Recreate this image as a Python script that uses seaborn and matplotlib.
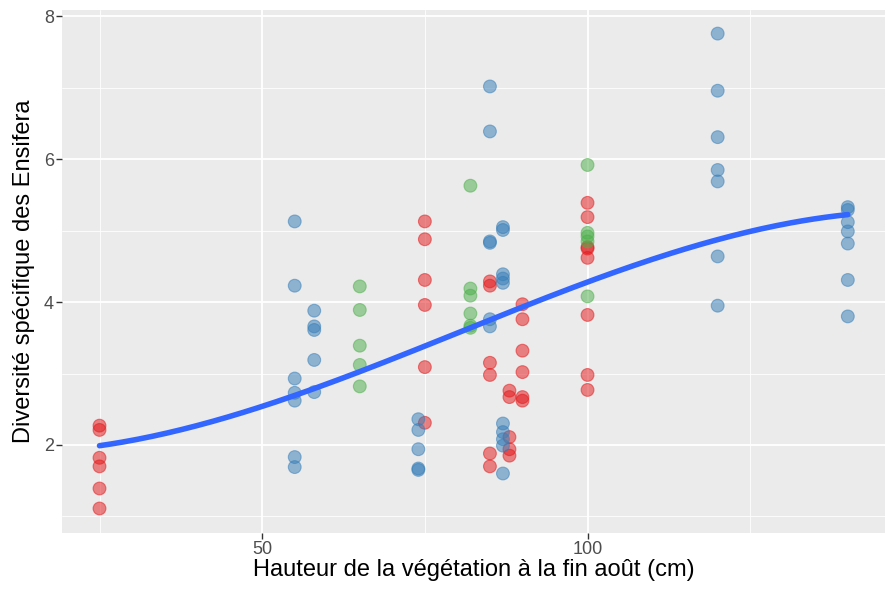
import numpy as np
import pandas as pd
import matplotlib.pyplot as plt
import seaborn as sns
from matplotlib.ticker import MultipleLocator

# Data (height in cm, species diversity)
red_x = [25, 25, 25, 25, 25, 25,
         75, 75, 75, 75, 75, 75,
         85, 85, 85, 85, 85, 85,
         88, 88, 88, 88, 88,
         90, 90, 90, 90, 90, 90,
         100, 100, 100, 100, 100, 100, 100, 100]
red_y = [2.27, 2.21, 1.82, 1.70, 1.39, 1.11,
         5.13, 4.88, 4.31, 3.96, 3.09, 2.31,
         4.29, 4.23, 3.15, 2.98, 1.88, 1.70,
         2.76, 2.67, 2.11, 1.94, 1.85,
         3.97, 3.76, 3.32, 3.02, 2.67, 2.62,
         5.39, 5.19, 4.77, 4.75, 4.62, 3.82, 2.98, 2.77]

blue_x = [55, 55, 55, 55, 55, 55, 55,
          58, 58, 58, 58, 58,
          74, 74, 74, 74, 74,
          85, 85, 85, 85, 85, 85,
          87, 87, 87, 87, 87, 87, 87, 87, 87, 87,
          120, 120, 120, 120, 120, 120, 120,
          140, 140, 140, 140, 140, 140, 140]
blue_y = [5.13, 4.23, 2.93, 2.73, 2.62, 1.83, 1.69,
          3.88, 3.66, 3.61, 3.19, 2.74,
          2.36, 2.21, 1.94, 1.67, 1.65,
          7.02, 6.39, 4.85, 4.83, 3.76, 3.66,
          5.05, 5.01, 4.39, 4.33, 4.27, 2.30, 2.18, 2.08, 1.99, 1.60,
          7.76, 6.96, 6.31, 5.85, 5.69, 4.64, 3.95,
          5.33, 5.29, 5.12, 4.99, 4.82, 4.31, 3.80]

green_x = [65, 65, 65, 65, 65,
           82, 82, 82, 82, 82, 82,
           100, 100, 100, 100, 100]
green_y = [4.22, 3.89, 3.39, 3.12, 2.82,
           5.63, 4.19, 4.09, 3.84, 3.67, 3.64,
           5.92, 4.97, 4.92, 4.85, 4.08]

df = pd.DataFrame({
    "hauteur": red_x + blue_x + green_x,
    "diversite": red_y + blue_y + green_y,
    "groupe": ["r"] * len(red_x) + ["b"] * len(blue_x) + ["g"] * len(green_x),
})

# smooth trend: cubic fit on all points
coefs = np.polyfit(df["hauteur"], df["diversite"], 3)
grid = np.linspace(df["hauteur"].min(), df["hauteur"].max(), 200)
smooth = pd.DataFrame({"hauteur": grid, "diversite": np.polyval(coefs, grid)})

sns.set_theme(style="darkgrid", rc={
    "axes.facecolor": "#EBEBEB",
    "grid.color": "white",
})
plt.rcParams["font.family"] = ["Liberation Sans", "DejaVu Sans"]

fig, ax = plt.subplots(figsize=(8.87, 5.9), dpi=100)
fig.subplots_adjust(left=0.07, right=0.998, top=0.983, bottom=0.097)

palette = {"r": "#E41A1C", "b": "#377EB8", "g": "#4DAF4A"}
sns.scatterplot(data=df, x="hauteur", y="diversite", hue="groupe",
                palette=palette, alpha=0.52, s=85, linewidth=0.8,
                edgecolor=None, legend=False, ax=ax, zorder=3)
# darker rim like ggplot's stroke
for coll in ax.collections:
    coll.set_edgecolor(coll.get_facecolor())

sns.lineplot(data=smooth, x="hauteur", y="diversite", color="#3366FF",
             linewidth=4, ax=ax, zorder=4)

ax.set_xlim(19.25, 145.75)
ax.set_ylim(0.77, 8.09)
ax.xaxis.set_major_locator(MultipleLocator(50))
ax.xaxis.set_minor_locator(MultipleLocator(25))
ax.yaxis.set_major_locator(MultipleLocator(2))
ax.yaxis.set_minor_locator(MultipleLocator(1))
ax.grid(which="major", color="white", linewidth=1.3)
ax.grid(which="minor", color="white", linewidth=0.6)
ax.tick_params(which="major", length=4, width=1, color="#333333",
               labelsize=13, labelcolor="#4D4D4D", pad=2, bottom=True, left=True)
ax.tick_params(which="minor", length=0)
for sp in ax.spines.values():
    sp.set_visible(False)

ax.set_xlabel("Hauteur de la végétation à la fin août (cm)", fontsize=17,
              color="black", labelpad=1)
ax.set_ylabel("Diversité spécifique des Ensifera", fontsize=17,
              color="black", labelpad=6)

fig.savefig("out.png", dpi=100)
